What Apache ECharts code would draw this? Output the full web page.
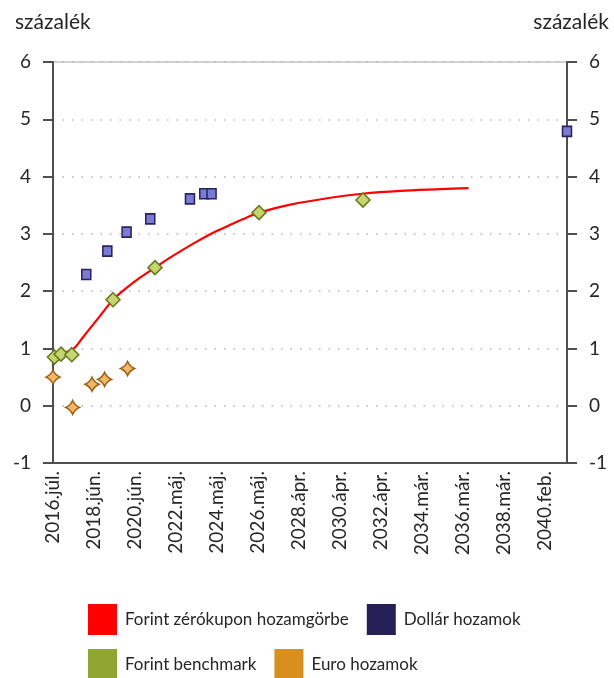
<!DOCTYPE html>
<html><head><meta charset="utf-8">
<script src="https://cdn.jsdelivr.net/npm/echarts@6/dist/echarts.min.js"></script>
<style>html,body{margin:0;padding:0;background:#fff}#c{width:614px;height:678px}</style>
</head><body><div id="c"></div>
<script>
// ---- data ----
const axisStart = '2016-07-01';
const axisEnd = '2041-03-29';
const tickStepDays = 720;
const xTickLabels = ['2016.júl.','2018.jún.','2020.jún.','2022.máj.','2024.máj.','2026.máj.','2028.ápr.','2030.ápr.','2032.ápr.','2034.már.','2036.már.','2038.már.','2040.feb.'];
const yMin = -1, yMax = 6, yStep = 1;

const curveDates  = ['2016-07-01','2016-12-29','2017-06-23','2017-12-13','2018-06-09','2018-12-02','2019-05-22','2019-12-24','2020-09-13','2021-05-29','2021-12-31','2022-08-17','2023-05-25','2024-03-19','2024-12-08','2025-08-28','2026-05-31','2027-12-03','2029-11-05','2031-05-22','2033-03-20','2035-02-21','2036-07-01'];
const curveValues = [0.86,0.92,0.99,1.20,1.42,1.64,1.85,2.04,2.24,2.41,2.555,2.695,2.86,3.02,3.14,3.26,3.37,3.51,3.63,3.70,3.75,3.78,3.80];

const dollarDates  = ['2018-02-06','2019-02-11','2020-01-16','2021-03-07','2023-02-03','2023-10-13','2024-02-18','2041-03-29'];
const dollarValues = [2.29,2.70,3.03,3.26,3.61,3.70,3.70,4.79];

const benchDates  = ['2016-07-26','2016-11-19','2017-05-27','2019-05-22','2021-05-29','2026-05-31','2031-06-03'];
const benchValues = [0.85,0.90,0.89,1.85,2.41,3.37,3.59];

const euroDates  = ['2016-07-01','2017-06-11','2018-05-18','2018-12-25','2020-02-02'];
const euroValues = [0.50,-0.03,0.375,0.46,0.65];

const names = ['Forint zérókupon hozamgörbe','Dollár hozamok','Forint benchmark','Euro hozamok'];

// ---- helpers ----
function toUTC(s){const p=s.split('-').map(Number);return Date.UTC(p[0],p[1]-1,p[2]);}
const t0 = toUTC(axisStart);
function dayOf(s){return Math.round((toUTC(s)-t0)/86400000);}
function pairs(ds,vs){return ds.map((d,i)=>[dayOf(d),vs[i]]);}

const FONT = 'Lato';
const TXT = '#262626';
const AX = '#4f4f4f';
const starPath = 'path://M0,-10 Q3,-3 10,0 Q3,3 0,10 Q-3,3 -10,0 Q-3,-3 0,-10Z';

const chart = echarts.init(document.getElementById('c'), null, {renderer:'canvas'});
chart.setOption({
  animation:false,
  backgroundColor:'#fff',
  textStyle:{fontFamily:FONT},
  title:[
    {text:'százalék', left:15, top:12, padding:0, textStyle:{fontFamily:FONT,fontSize:21,fontWeight:'normal',color:TXT}},
    {text:'százalék', right:5, top:12, padding:0, textStyle:{fontFamily:FONT,fontSize:21,fontWeight:'normal',color:TXT}}
  ],
  grid:{left:53, right:47, top:62, bottom:215, show:true, borderColor:'#c4c4c4', borderWidth:1.5, backgroundColor:'transparent'},
  legend:[
    {left:88, top:604, padding:0, icon:'rect', itemWidth:29, itemHeight:31, itemGap:18,
     textStyle:{fontFamily:FONT,fontSize:17,color:TXT,padding:[0,0,0,3]},
     data:[{name:names[0],itemStyle:{color:'#ff0000',borderWidth:0}},{name:names[1],itemStyle:{color:'#252058',borderWidth:0}}]},
    {left:88, top:649, padding:0, icon:'rect', itemWidth:29, itemHeight:31, itemGap:18,
     textStyle:{fontFamily:FONT,fontSize:17,color:TXT,padding:[0,0,0,3]},
     data:[{name:names[2],itemStyle:{color:'#8fa632',borderWidth:0}},{name:names[3],itemStyle:{color:'#d98e20',borderWidth:0}}]}
  ],
  xAxis:{
    type:'value', min:0, max:dayOf(axisEnd), interval:tickStepDays,
    axisLine:{show:true,onZero:false,lineStyle:{color:AX,width:2}},
    axisTick:{show:false},
    splitLine:{show:false},
    axisLabel:{rotate:90, margin:8, fontFamily:FONT, fontSize:19, color:TXT, showMaxLabel:false,
      formatter:function(v){const i=Math.round(v/tickStepDays);return (Math.abs(v-i*tickStepDays)<1e-6&&i<xTickLabels.length)?xTickLabels[i]:'';}}
  },
  yAxis:[
    {type:'value', min:yMin, max:yMax, interval:yStep, position:'left',
     axisLine:{show:true,onZero:false,lineStyle:{color:AX,width:2}},
     axisTick:{show:true,length:10,lineStyle:{color:AX,width:2}},
     axisLabel:{margin:22,fontFamily:FONT,fontSize:19,color:TXT},
     splitLine:{show:true,lineStyle:{color:'#b4b4b4',width:1.5,type:[1.5,8]}}},
    {type:'value', min:yMin, max:yMax, interval:yStep, position:'right',
     axisLine:{show:true,onZero:false,lineStyle:{color:AX,width:2}},
     axisTick:{show:true,length:10,lineStyle:{color:AX,width:2}},
     axisLabel:{margin:22,fontFamily:FONT,fontSize:19,color:TXT},
     splitLine:{show:false}}
  ],
  series:[
    {name:names[0], type:'line', data:pairs(curveDates,curveValues), smooth:0.3, showSymbol:false, symbol:'none',
     lineStyle:{color:'#ff0000',width:2.2}, itemStyle:{color:'#ff0000'}, z:2},
    {name:names[1], type:'scatter', data:pairs(dollarDates,dollarValues), symbol:'rect', symbolSize:[9,10],
     itemStyle:{color:'#7b7bd3',borderColor:'#27235c',borderWidth:1.6,opacity:1}, z:3},
    {name:names[2], type:'scatter', data:pairs(benchDates,benchValues), symbol:'diamond', symbolSize:[14,14],
     itemStyle:{color:'#c6d66f',borderColor:'#6a7a22',borderWidth:1.6,opacity:1}, z:3},
    {name:names[3], type:'scatter', data:pairs(euroDates,euroValues), symbol:starPath, symbolSize:[14,14],
     itemStyle:{color:'#f2b866',borderColor:'#9c5e15',borderWidth:1.5,opacity:1}, z:3}
  ]
});
</script></body></html>
